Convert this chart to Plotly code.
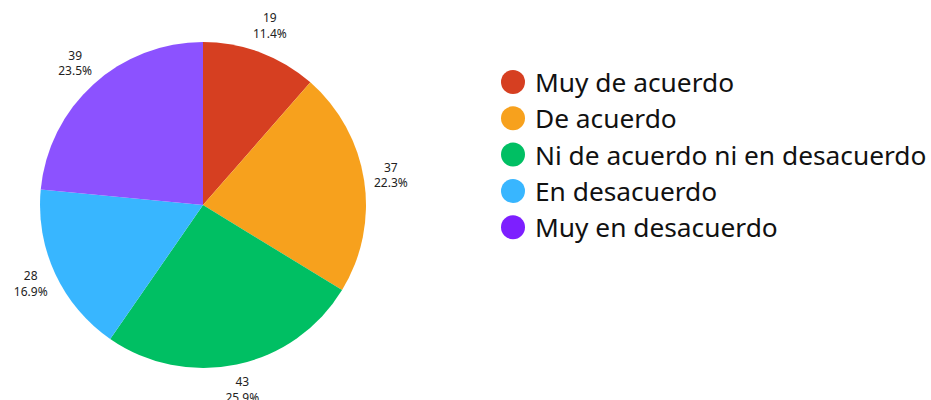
import plotly.graph_objects as go

categories = ["Muy de acuerdo", "De acuerdo", "Ni de acuerdo ni en desacuerdo",
              "En desacuerdo", "Muy en desacuerdo"]
values = [19, 37, 43, 28, 39]
colors = ["#D63F21", "#F7A11D", "#00BF63", "#38B6FF", "#8C52FF"]
legend_colors = ["#D63F21", "#F7A11D", "#00BF63", "#38B6FF", "#7D1FFF"]

W, H = 931, 400
CX, CY, R = 203, 205, 163
R_LBL = 190  # pixel radius of the label ring

total = sum(values)
mid_angles = []
acc = 0
for v in values:
    mid_angles.append((acc + v / 2) / total * 360)
    acc += v
label_texts = [f"{v}<br>{v / total * 100:.1f}%" for v in values]

dom_x = [(CX - R) / W, (CX + R) / W]
dom_y = [1 - (CY + R) / H, 1 - (CY - R) / H]
pol_x = [(CX - R_LBL) / W, (CX + R_LBL) / W]
pol_y = [1 - (CY + R_LBL) / H, 1 - (CY - R_LBL) / H]

fig = go.Figure()
fig.add_trace(go.Pie(
    labels=categories,
    values=values,
    sort=False,
    direction="clockwise",
    rotation=0,
    marker=dict(colors=colors, line=dict(width=0)),
    textinfo="none",
    domain=dict(x=dom_x, y=dom_y),
    showlegend=False,
    hoverinfo="label+value+percent",
))
# outside labels, placed along each slice's mid-angle on a polar overlay
fig.add_trace(go.Scatterpolar(
    r=[1.0] * len(values),
    theta=mid_angles,
    mode="text",
    text=label_texts,
    textposition="middle center",
    textfont=dict(family="Noto Sans", size=12, color="#222222"),
    cliponaxis=False,
    showlegend=False,
    hoverinfo="skip",
))

# Custom legend with circle markers
row0, step = 82, 36.3
for i, (cat, col) in enumerate(zip(categories, legend_colors)):
    yc = row0 + i * step
    fig.add_shape(type="circle", xref="paper", yref="paper",
                  xsizemode="pixel", ysizemode="pixel",
                  xanchor=513 / W, yanchor=1 - yc / H,
                  x0=-12, x1=12, y0=-12, y1=12,
                  fillcolor=col, line=dict(width=0))
    fig.add_annotation(xref="paper", yref="paper", x=533 / W, y=1 - yc / H,
                       xanchor="left", yanchor="middle", showarrow=False,
                       text=cat, font=dict(family="Noto Sans", size=26.3, color="#111111"))

fig.update_layout(
    width=W, height=H,
    margin=dict(l=0, r=0, t=0, b=0, autoexpand=False),
    paper_bgcolor="white", plot_bgcolor="white",
    polar=dict(
        domain=dict(x=pol_x, y=pol_y),
        bgcolor="rgba(0,0,0,0)",
        radialaxis=dict(visible=False, range=[0, 1]),
        angularaxis=dict(visible=False, direction="clockwise", rotation=90),
    ),
)
fig.write_html("out.html")
